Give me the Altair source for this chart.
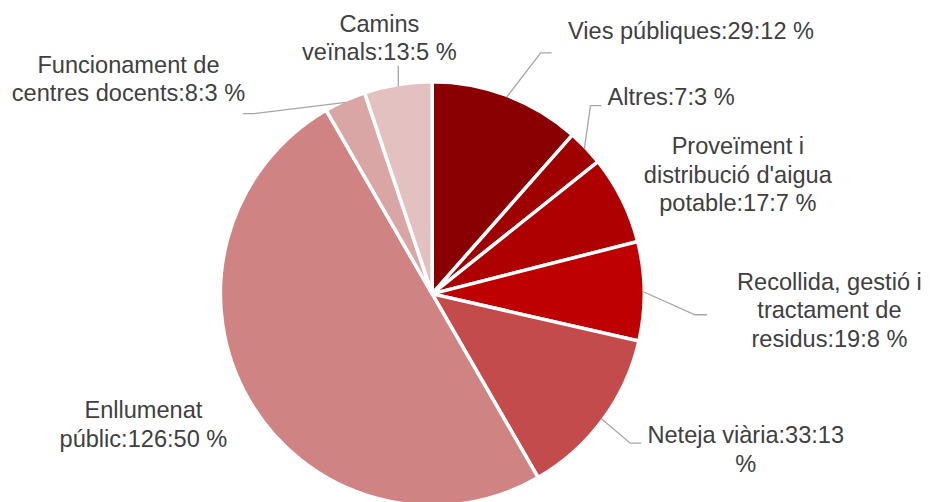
import math
import altair as alt
import pandas as pd

# ---------------- data ----------------
categories = [
    "Vies públiques",
    "Altres",
    "Proveïment i distribució d'aigua potable",
    "Recollida, gestió i tractament de residus",
    "Neteja viària",
    "Enllumenat públic",
    "Funcionament de centres docents",
    "Camins veïnals",
]
values = [29, 7, 17, 19, 33, 126, 8, 13]
colors = ["#8A0000", "#9F0000", "#AE0000", "#BF0000", "#C44B4B", "#D08383", "#D9A5A5", "#E4C1C1"]

# ---------------- layout (page pixels) ----------------
CX, CY, R = 434, 294, 213
W, H = 914, 486
FONT = "Liberation Sans"
FS = 23.7
LH = 28.5
TEXT_COLOR = "#404040"
LINE_COLOR = "#A6A6A6"

# label block centre (x) and first-line centre (y)
label_anchor = [(694, 31), (674, 97), (741, 147), (833, 283), (749, 437), (144, 412), (129, 65), (381, 24)]
# words per wrapped line
wrap = [[3], [2], [2, 2, 2], [3, 2, 2], [2, 1], [1, 2], [2, 3], [1, 2]]
# leader line bend points after the slice edge (None = no leader)
leader = [
    [(543, 52), (554, 52)],
    [(593, 105), (604, 105)],
    None,
    [(698, 315), (710, 315)],
    [(633, 444), (644, 444)],
    None,
    [(255, 113), (244, 113)],
    [(400, 65)],
]

total = sum(values)
pie_df = pd.DataFrame({"cat": categories, "value": values, "idx": list(range(len(values)))})

# labels
label_rows = []
for i, (c, v) in enumerate(zip(categories, values)):
    pct = round(v / total * 100)
    words = f"{c}:{v}:{pct} %".split(" ")
    lx, ly = label_anchor[i]
    k = 0
    for j, n in enumerate(wrap[i]):
        label_rows.append({"t": " ".join(words[k:k + n]), "x": lx, "y": ly + j * LH})
        k += n
label_df = pd.DataFrame(label_rows)

# leader lines (start at slice mid-angle on pie edge)
line_rows = []
cum = 0
for i, v in enumerate(values):
    mid = (cum + v / 2) / total * 2 * math.pi
    cum += v
    if leader[i] is None:
        continue
    pts = [(CX + (R - 2) * math.sin(mid), CY - (R - 2) * math.cos(mid))] + leader[i]
    for j, (px, py) in enumerate(pts):
        line_rows.append({"cat": categories[i], "o": j, "x": px, "y": py})
line_df = pd.DataFrame(line_rows)

xs = alt.Scale(domain=[8, 8 + W], nice=False, zero=False)
ys = alt.Scale(domain=[8, 8 + H], nice=False, zero=False, reverse=True)

pie = alt.Chart(pie_df).mark_arc(outerRadius=R, stroke="white", strokeWidth=3.5).encode(
    theta=alt.Theta("value:Q", stack=True),
    order=alt.Order("idx:Q"),
    color=alt.Color("cat:N", scale=alt.Scale(domain=categories, range=colors), legend=None),
    x=alt.datum(CX, scale=xs, axis=None),
    y=alt.datum(CY, scale=ys, axis=None),
)

lines = alt.Chart(line_df).mark_line(color=LINE_COLOR, strokeWidth=1.3).encode(
    x=alt.X("x:Q", scale=xs, axis=None),
    y=alt.Y("y:Q", scale=ys, axis=None),
    detail="cat:N",
    order="o:Q",
)

labels = alt.Chart(label_df).mark_text(
    font=FONT, fontSize=FS, color=TEXT_COLOR, align="center", baseline="middle"
).encode(
    x=alt.X("x:Q", scale=xs, axis=None),
    y=alt.Y("y:Q", scale=ys, axis=None),
    text="t:N",
)

chart = (
    alt.layer(pie, lines, labels)
    .properties(width=W, height=H, padding=0, background="white")
    .configure_view(stroke=None)
)

chart.save("out.html", embed_options={"renderer": "svg", "actions": False})
